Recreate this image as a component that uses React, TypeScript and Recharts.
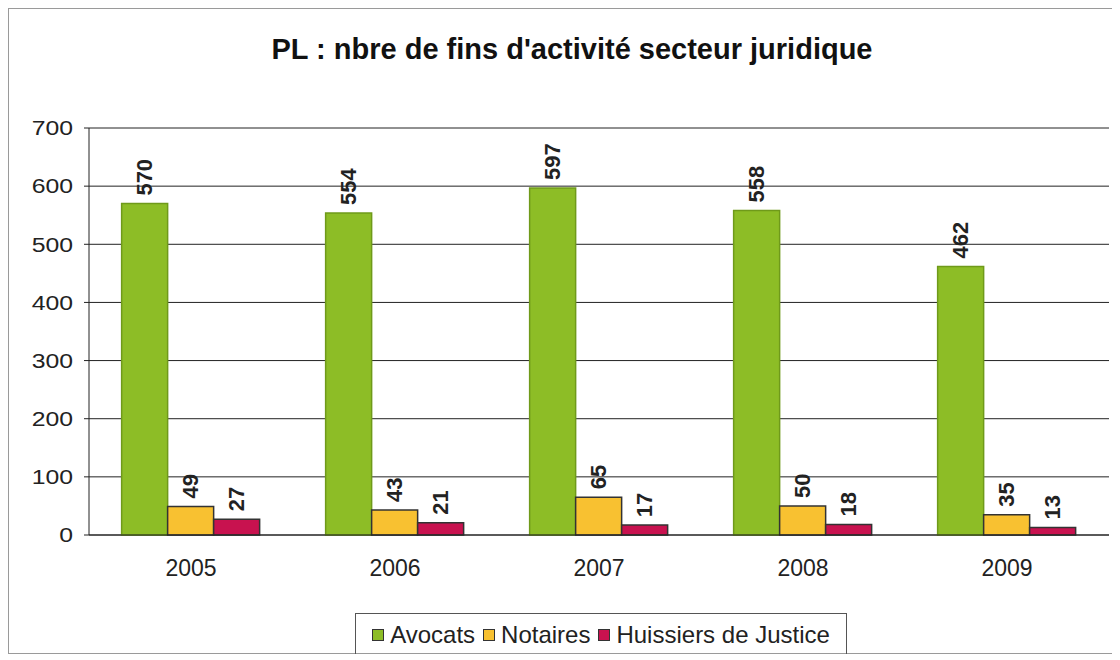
import { BarChart, Bar, XAxis, YAxis, CartesianGrid, LabelList } from 'recharts'

const years = ['2005', '2006', '2007', '2008', '2009']
const avocats = [570, 554, 597, 558, 462]
const notaires = [49, 43, 65, 50, 35]
const huissiers = [27, 21, 17, 18, 13]
const yTicks = [0, 100, 200, 300, 400, 500, 600, 700]

const series = [
  { key: 'avocats', name: 'Avocats', color: '#8dbd26', stroke: '#6f9a1a' },
  { key: 'notaires', name: 'Notaires', color: '#f8c131', stroke: '#333' },
  { key: 'huissiers', name: 'Huissiers de Justice', color: '#c8124f', stroke: '#333' },
]

const data = years.map((y, i) => ({
  year: y,
  avocats: avocats[i],
  notaires: notaires[i],
  huissiers: huissiers[i],
}))

const font = 'Arial, "Liberation Sans", sans-serif'

const renderLabel = (props: any) => {
  const { x, y, width, value } = props
  const cx = x + width / 2
  const cy = y - 8
  return (
    <text
      x={cx}
      y={cy}
      transform={`rotate(-90 ${cx} ${cy})`}
      textAnchor="start"
      dominantBaseline="central"
      fontSize={22}
      fontWeight="bold"
      fontFamily={font}
      fill="#222"
    >
      {value}
    </text>
  )
}

// wide-looking y labels, as in the scanned original
const YTick = (props: any) => {
  const { x, y, payload } = props
  return (
    <g transform={`translate(${x},${y}) scale(1.18,1)`}>
      <text
        x={0}
        y={0}
        textAnchor="end"
        dominantBaseline="central"
        fontSize={21}
        fontFamily={font}
        fill="#222"
      >
        {payload.value}
      </text>
    </g>
  )
}

export default function App() {
  return (
    <div
      style={{
        position: 'relative',
        width: 1104,
        height: 644,
        border: '1px solid #9a9a9a',
        background: '#fff',
        fontFamily: font,
      }}
    >
      <div
        style={{
          position: 'absolute',
          top: 24,
          left: 0,
          width: 1126,
          textAlign: 'center',
          fontSize: 29,
          fontWeight: 'bold',
          color: '#111',
        }}
      >
        PL : nbre de fins d'activité secteur juridique
      </div>
      <BarChart
        width={1104}
        height={644}
        data={data}
        margin={{ top: 119, right: 4, bottom: 68, left: 0 }}
        barGap={0}
        barCategoryGap="16%"
      >
        <CartesianGrid vertical={false} stroke="#222" />
        <XAxis
          dataKey="year"
          height={50}
          tickLine={false}
          axisLine={{ stroke: '#222' }}
          tickMargin={19}
          tick={{ fontSize: 23, fill: '#222', fontFamily: font }}
        />
        <YAxis
          width={80}
          domain={[0, 700]}
          ticks={yTicks}
          tickSize={5}
          tickMargin={11}
          axisLine={{ stroke: '#222' }}
          tickLine={{ stroke: '#222' }}
          tick={<YTick />}
        />
        {series.map((s) => (
          <Bar
            key={s.key}
            dataKey={s.key}
            name={s.name}
            fill={s.color}
            stroke={s.stroke}
            strokeWidth={1.5}
            isAnimationActive={false}
          >
            <LabelList dataKey={s.key} content={renderLabel} />
          </Bar>
        ))}
      </BarChart>
      <div
        style={{
          position: 'absolute',
          left: 346,
          top: 604,
          width: 492,
          height: 43,
          border: '1px solid #555',
          display: 'flex',
          alignItems: 'center',
          justifyContent: 'center',
          gap: 8,
          fontSize: 24,
          color: '#222',
          boxSizing: 'border-box',
        }}
      >
        {series.map((s) => (
          <div key={s.key} style={{ display: 'flex', alignItems: 'center', gap: 6 }}>
            <span
              style={{
                display: 'inline-block',
                width: 10,
                height: 10,
                background: s.color,
                border: '1.5px solid #333',
              }}
            />
            <span>{s.name}</span>
          </div>
        ))}
      </div>
    </div>
  )
}
